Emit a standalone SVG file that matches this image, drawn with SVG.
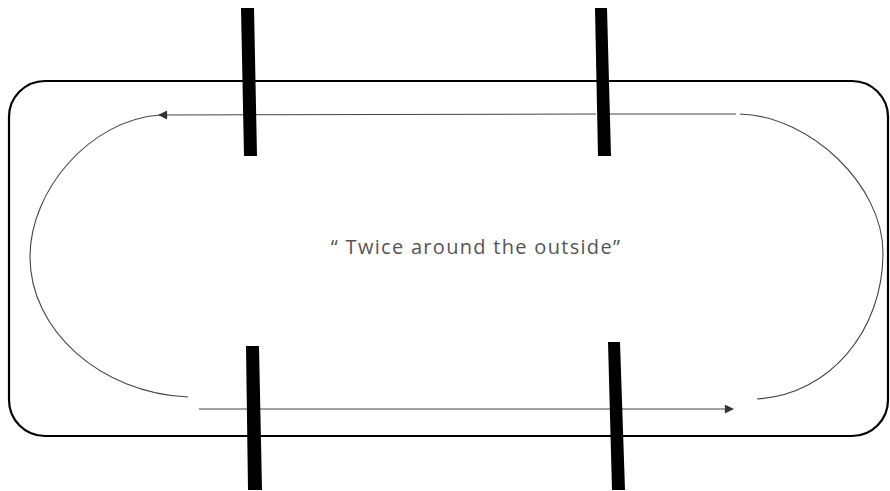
<svg xmlns="http://www.w3.org/2000/svg" width="890" height="491" viewBox="0 0 890 491">
<style>
.frame{fill:none;stroke:#000;stroke-width:2.2}
.track{fill:none;stroke:#444;stroke-width:1.1}
.bar{fill:#000}
.lbl{font-family:"Open Sans","Liberation Sans",sans-serif;font-size:20px;letter-spacing:1.3px;fill:#555}
</style>
<defs>
<marker id="ah" viewBox="0 0 10 10" refX="9" refY="5" markerWidth="13" markerHeight="9" markerUnits="userSpaceOnUse" orient="auto">
<path d="M0,0 L10,5 L0,10 Z" fill="#333"/>
</marker>
</defs>
<rect id="frame" class="frame" x="9" y="81" width="879" height="355" rx="36" ry="36"/>
<g id="connectors">
<path class="track" d="M 740 114 C 810 116, 883 185, 883 253 C 883 330, 830 395, 757 399"/>
<path class="track" d="M 596 114 L 159 115" marker-end="url(#ah)"/>
<path class="track" d="M 160 115 C 90 120, 30 190, 30 257 C 30 330, 100 393, 188 397"/>
<path class="track" d="M 199 409 L 733 409" marker-end="url(#ah)"/>
<path class="track" d="M 607 114 L 736 114"/>
</g>
<g id="pole-top-left"><polygon class="bar" points="241,8 254,8 257,156 244,156"/></g>
<g id="pole-top-right"><polygon class="bar" points="595,8 607,8 611,156 598,156"/></g>
<g id="pole-bottom-left"><polygon class="bar" points="246,346 259,346 262,490 248,490"/></g>
<g id="pole-bottom-right"><polygon class="bar" points="608,342 620,342 625,490 612,490"/></g>
<g id="label"><text class="lbl" x="476" y="254" text-anchor="middle">“ Twice around the outside”</text></g>
</svg>
